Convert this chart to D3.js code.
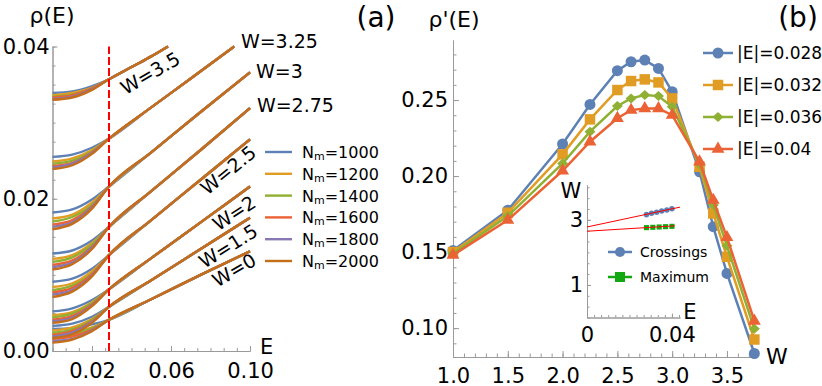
<!DOCTYPE html>
<html>
<head>
<meta charset="utf-8">
<script src="https://cdn.jsdelivr.net/npm/d3@7"></script>
<style>
  body { margin: 0; background: #fff; }
  svg text { font-family: "DejaVu Sans", sans-serif; fill: #000; }
</style>
</head>
<body>
<svg id="chart" width="822" height="386"></svg>
<script>
// ---------- panel (a) data: rho(E) ----------
const nmLabels = ["1000", "1200", "1400", "1600", "1800", "2000"];
const nmColors = ["#5e81b5", "#e19c24", "#8fb032", "#eb6235", "#8778b3", "#c56e1a"];
const wValues = [0, 1.5, 2, 2.5, 2.75, 3, 3.25, 3.5];
const wLabels = ["W=0", "W=1.5", "W=2", "W=2.5", "W=2.75", "W=3", "W=3.25", "W=3.5"];
const eLow = [0, 0.01, 0.02];

// rows are N_m = 1000..2000, values at eLow
const lowW0   = [[0.0029,0.0030,0.0035],[0.0022,0.0024,0.0031],[0.0019,0.0022,0.0030],[0.0016,0.0019,0.0028],[0.0013,0.0016,0.0027],[0.0011,0.0015,0.0026]];
const lowW15  = [[0.0033,0.0036,0.0045],[0.0027,0.0031,0.0042],[0.0024,0.0028,0.0041],[0.0021,0.0026,0.0039],[0.0019,0.0024,0.0038],[0.0017,0.0022,0.0037]];
const lowW2   = [[0.0052,0.0056,0.0067],[0.0047,0.0051,0.0064],[0.0044,0.0049,0.0063],[0.0041,0.0046,0.0061],[0.0039,0.0044,0.0060],[0.0037,0.0042,0.0059]];
const lowW25  = [[0.0091,0.0095,0.0108],[0.0084,0.0089,0.0105],[0.0080,0.0086,0.0102],[0.0077,0.0083,0.0101],[0.0074,0.0080,0.0099],[0.0071,0.0078,0.0098]];
const lowW275 = [[0.0128,0.0132,0.0145],[0.0121,0.0126,0.0142],[0.0117,0.0123,0.0140],[0.0113,0.0119,0.0137],[0.0110,0.0116,0.0136],[0.0107,0.0114,0.0134]];
const lowW3   = [[0.0182,0.0186,0.0199],[0.0174,0.0179,0.0195],[0.0170,0.0176,0.0192],[0.0166,0.0172,0.0190],[0.0163,0.0169,0.0189],[0.0160,0.0167,0.0187]];
const lowW325 = [[0.0255,0.0258,0.0267],[0.0249,0.0253,0.0264],[0.0246,0.0250,0.0262],[0.0243,0.0247,0.0261],[0.0241,0.0246,0.0260],[0.0239,0.0244,0.0259]];
const lowW35  = [[0.0339,0.0341,0.0348],[0.0336,0.0339,0.0346],[0.0334,0.0337,0.0345],[0.0333,0.0336,0.0345],[0.0331,0.0334,0.0344],[0.0330,0.0333,0.0343]];

// shared part after the crossing, [E, rho]
const tailW0   = [[0.0286,0.0041],[0.05,0.0068],[0.075,0.0100],[0.10,0.0131]];
const tailW15  = [[0.0286,0.0058],[0.05,0.0093],[0.075,0.0134],[0.10,0.0175]];
const tailW2   = [[0.0286,0.0081],[0.05,0.0122],[0.075,0.0169],[0.10,0.0216]];
const tailW25  = [[0.0286,0.0126],[0.05,0.0172],[0.075,0.0225],[0.10,0.0278]];
const tailW275 = [[0.0286,0.0163],[0.05,0.0210],[0.075,0.0264],[0.10,0.0319]];
const tailW3   = [[0.0286,0.0216],[0.05,0.0261],[0.075,0.0314],[0.10,0.0366]];
const tailW325 = [[0.0286,0.0279],[0.05,0.0320],[0.07,0.0358],[0.092,0.0400]];
const tailW35  = [[0.0286,0.0357],[0.04,0.0373],[0.05,0.0387],[0.0585,0.0400]];

const eCrossing = 0.0286;

// ---------- panel (b) data: rho'(E) vs W ----------
const wGrid = [1, 1.5, 2, 2.25, 2.5, 2.625, 2.75, 2.875, 3, 3.25, 3.375, 3.5, 3.75];
const eSeriesLabels = ["|E|=0.028", "|E|=0.032", "|E|=0.036", "|E|=0.04"];
const eSeriesColors = ["#5e81b5", "#e19c24", "#8fb032", "#eb6235"];
const slopeE028 = [0.151,0.1776,0.2211,0.2471,0.2693,0.2752,0.2763,0.2708,0.2555,0.2028,0.1667,0.1360,0.0833];
const slopeE032 = [0.150,0.1759,0.2143,0.2373,0.2566,0.2625,0.2636,0.2616,0.2511,0.2061,0.1754,0.1469,0.0925];
const slopeE036 = [0.149,0.1737,0.2083,0.2292,0.2461,0.2511,0.2533,0.2526,0.2456,0.2077,0.1809,0.1541,0.0995];
const slopeE040 = [0.148,0.1711,0.2035,0.2226,0.2380,0.2434,0.2445,0.2445,0.2401,0.2094,0.1842,0.1597,0.1047];

// inset
const crossE = [0.028, 0.0304, 0.0328, 0.0352, 0.0376, 0.04];
const crossW = [3.16, 3.20, 3.23, 3.27, 3.30, 3.34];
const maxE = [0.028, 0.031, 0.034, 0.037, 0.040];
const maxW = [2.76, 2.77, 2.78, 2.79, 2.80];
const fitCross = [[0, 2.78], [0.0438, 3.39]];
const fitMax = [[0, 2.65], [0.0414, 2.815]];

// ---------- drawing ----------
const svg = d3.select("#chart");
const axisColor = "#9a9a9a";

function styleAxis(g, fontSize) {
  g.attr("font-family", null).attr("font-size", fontSize);
  g.select(".domain").attr("stroke", axisColor);
  g.selectAll(".tick line").attr("stroke", axisColor);
  g.selectAll(".tick text").attr("fill", "#000");
}

function addAxis(parent, axis, transform, fontSize) {
  const g = parent.append("g").attr("transform", transform).call(axis);
  styleAxis(g, fontSize);
  return g;
}

// panel (a)
const xA = d3.scaleLinear().domain([0, 0.1]).range([52.5, 250]);
const yA = d3.scaleLinear().domain([0, 0.04]).range([351, 46.5]);
const gA = svg.append("g");

addAxis(gA, d3.axisBottom(xA).tickValues(d3.range(0, 0.1001, 0.02 / 3)).tickSize(-3).tickSizeOuter(0).tickFormat(""), `translate(0,${yA(0)})`, 21);
addAxis(gA, d3.axisBottom(xA).tickValues([0.02, 0.06, 0.1]).tickSize(-5).tickSizeOuter(0).tickPadding(12).tickFormat(d3.format(".2f")), `translate(0,${yA(0)})`, 21);
addAxis(gA, d3.axisLeft(yA).tickValues(d3.range(0, 0.04001, 0.0025)).tickSize(-3).tickSizeOuter(0).tickFormat(""), `translate(${xA(0)},0)`, 21);
addAxis(gA, d3.axisLeft(yA).tickValues([0, 0.02, 0.04]).tickSize(-5).tickSizeOuter(0).tickPadding(3).tickFormat(d3.format(".2f")), `translate(${xA(0)},0)`, 21);

const lowSets = [lowW0, lowW15, lowW2, lowW25, lowW275, lowW3, lowW325, lowW35];
const tailSets = [tailW0, tailW15, tailW2, tailW25, tailW275, tailW3, tailW325, tailW35];
const lineA = d3.line().x(d => xA(d[0])).y(d => yA(d[1])).curve(d3.curveMonotoneX);

nmLabels.forEach((nm, j) => {
  wValues.forEach((w, i) => {
    const pts = eLow.map((e, k) => [e, lowSets[i][j][k]]).concat(tailSets[i]);
    gA.append("path").attr("d", lineA(pts))
      .attr("fill", "none").attr("stroke", nmColors[j]).attr("stroke-width", 2.4);
  });
});

gA.append("line")
  .attr("x1", xA(eCrossing)).attr("x2", xA(eCrossing))
  .attr("y1", yA(0)).attr("y2", yA(0.04))
  .attr("stroke", "#ff0000").attr("stroke-width", 2).attr("stroke-dasharray", "8,3");

// W labels: [E, rho, angle, anchor]
const wLabelSpots = [
  [0.0919, 0.01065, -30, "middle"],
  [0.0889, 0.01380, -32, "middle"],
  [0.0919, 0.01814, -33, "middle"],
  [0.0889, 0.02379, -39, "middle"],
  [0.1035, 0.03141, 0, "start"],
  [0.1030, 0.03588, 0, "start"],
  [0.0954, 0.03983, 0, "start"],
  [0.0494, 0.03654, -30, "middle"]
];
wLabels.forEach((t, i) => {
  const [e, r, a, anchor] = wLabelSpots[i];
  const x = xA(e), y = yA(r);
  gA.append("text").text(t)
    .attr("font-size", 19)
    .attr("text-anchor", anchor)
    .attr("dominant-baseline", anchor === "middle" ? "central" : "auto")
    .attr("transform", `translate(${x},${y}) rotate(${a})`);
});

gA.append("text").text("ρ(E)").attr("x", 52).attr("y", 23)
  .attr("text-anchor", "middle").attr("font-size", 22);
gA.append("text").text("E").attr("x", 260).attr("y", 347)
  .attr("dominant-baseline", "central").attr("font-size", 21);
gA.append("text").text("(a)").attr("x", 376).attr("y", 27)
  .attr("text-anchor", "middle").attr("font-size", 28);

// legend (a)
const legA = gA.append("g");
nmLabels.forEach((nm, j) => {
  const y = 152 + j * 21.8;
  legA.append("line").attr("x1", 265).attr("x2", 292).attr("y1", y).attr("y2", y)
    .attr("stroke", nmColors[j]).attr("stroke-width", 2.4);
  const t = legA.append("text").attr("x", 302).attr("y", y)
    .attr("dominant-baseline", "central").attr("font-size", 16);
  t.append("tspan").text("N");
  t.append("tspan").text("m").attr("font-size", 11).attr("dy", 4);
  t.append("tspan").text("=" + nm).attr("dy", -4);
});

// panel (b)
const xB = d3.scaleLinear().domain([1, 3.765]).range([453, 756]);
const yB = d3.scaleLinear().domain([0.081, 0.2895]).range([357, 40]);
const gB = svg.append("g");

addAxis(gB, d3.axisBottom(xB).tickValues(d3.range(1, 3.76, 0.1)).tickSize(-3.5).tickSizeOuter(0).tickFormat(""), `translate(0,${yB.range()[0]})`, 21);
addAxis(gB, d3.axisBottom(xB).tickValues([1, 1.5, 2, 2.5, 3, 3.5]).tickSize(-6).tickSizeOuter(0).tickPadding(11).tickFormat(d3.format(".1f")), `translate(0,${yB.range()[0]})`, 21);
addAxis(gB, d3.axisLeft(yB).tickValues(d3.range(0.09, 0.285, 0.01)).tickSize(-3.5).tickSizeOuter(0).tickFormat(""), `translate(${xB(1)},0)`, 21);
addAxis(gB, d3.axisLeft(yB).tickValues([0.10, 0.15, 0.20, 0.25]).tickSize(-6).tickSizeOuter(0).tickPadding(5).tickFormat(d3.format(".2f")), `translate(${xB(1)},0)`, 21);

const symCircle = d3.symbol().type(d3.symbolCircle).size(95)();
const symSquare = d3.symbol().type(d3.symbolSquare).size(110)();
const symDiamond = "M0,-5L5.5,0L0,5L-5.5,0Z";
const symTriangle = d3.symbol().type(d3.symbolTriangle).size(72)();
const eSymbols = [symCircle, symSquare, symDiamond, symTriangle];
const slopeSets = [slopeE028, slopeE032, slopeE036, slopeE040];
const lineB = d3.line().x(d => xB(d[0])).y(d => yB(d[1]));

slopeSets.forEach((vals, i) => {
  const pts = wGrid.map((w, k) => [w, vals[k]]);
  gB.append("path").attr("d", lineB(pts))
    .attr("fill", "none").attr("stroke", eSeriesColors[i]).attr("stroke-width", 2.5);
  gB.selectAll(null).data(pts).enter().append("path")
    .attr("d", eSymbols[i])
    .attr("transform", d => `translate(${xB(d[0])},${yB(d[1])})`)
    .attr("fill", eSeriesColors[i]);
});

gB.append("text").text("ρ'(E)").attr("x", 454).attr("y", 27)
  .attr("text-anchor", "middle").attr("font-size", 22);
gB.append("text").text("W").attr("x", 777).attr("y", 356)
  .attr("text-anchor", "middle").attr("dominant-baseline", "central").attr("font-size", 22);
gB.append("text").text("(b)").attr("x", 798).attr("y", 27)
  .attr("text-anchor", "middle").attr("font-size", 28);

// legend (b)
eSeriesLabels.forEach((lab, i) => {
  const y = 53 + i * 32;
  gB.append("line").attr("x1", 703).attr("x2", 733).attr("y1", y).attr("y2", y)
    .attr("stroke", eSeriesColors[i]).attr("stroke-width", 2.5);
  gB.append("path").attr("d", eSymbols[i]).attr("transform", `translate(718,${y})`)
    .attr("fill", eSeriesColors[i]);
  gB.append("text").text(lab).attr("x", 737).attr("y", y)
    .attr("dominant-baseline", "central").attr("font-size", 17);
});

// inset
const xI = d3.scaleLinear().domain([0, 0.0438]).range([587, 680]);
const yI = d3.scaleLinear().domain([0, 4.07]).range([317.5, 185]);
const gI = svg.append("g");

addAxis(gI, d3.axisBottom(xI).tickValues(d3.range(0, 0.0438, 0.04 / 12)).tickSize(-2.5).tickSizeOuter(0).tickFormat(""), `translate(0,${yI(0)})`, 21);
addAxis(gI, d3.axisBottom(xI).tickValues([0, 0.04]).tickSize(-4).tickSizeOuter(0).tickPadding(10).tickFormat(d => d === 0 ? "0" : d3.format(".2f")(d)), `translate(0,${yI(0)})`, 21);
addAxis(gI, d3.axisLeft(yI).tickValues(d3.range(0, 4.07, 1 / 3)).tickSize(-2.5).tickSizeOuter(0).tickFormat(""), `translate(${xI(0)},0)`, 21);
addAxis(gI, d3.axisLeft(yI).tickValues([1, 3]).tickSize(-4).tickSizeOuter(0).tickPadding(4).tickFormat(d3.format("d")), `translate(${xI(0)},0)`, 21);

const lineI = d3.line().x(d => xI(d[0])).y(d => yI(d[1]));
const insetBlue = "#5e81b5", insetGreen = "#12a812";

gI.selectAll(null).data(crossE.map((e, k) => [e, crossW[k]])).enter().append("path")
  .attr("d", d3.symbol().type(d3.symbolCircle).size(24)())
  .attr("transform", d => `translate(${xI(d[0])},${yI(d[1])})`)
  .attr("fill", insetBlue);
gI.selectAll(null).data(maxE.map((e, k) => [e, maxW[k]])).enter().append("path")
  .attr("d", d3.symbol().type(d3.symbolSquare).size(26)())
  .attr("transform", d => `translate(${xI(d[0])},${yI(d[1])})`)
  .attr("fill", insetGreen);
[fitCross, fitMax].forEach(f => {
  gI.append("path").attr("d", lineI(f)).attr("fill", "none")
    .attr("stroke", "#ff0000").attr("stroke-width", 1);
});

gI.append("text").text("W").attr("x", 571).attr("y", 191)
  .attr("text-anchor", "middle").attr("dominant-baseline", "central").attr("font-size", 21);
gI.append("text").text("E").attr("x", 690).attr("y", 312)
  .attr("text-anchor", "middle").attr("dominant-baseline", "central").attr("font-size", 21);

const insetLegend = [["Crossings", insetBlue, d3.symbol().type(d3.symbolCircle).size(80)()],
                     ["Maximum", insetGreen, d3.symbol().type(d3.symbolSquare).size(100)()]];
insetLegend.forEach(([lab, col, sym], i) => {
  const y = 252 + i * 25;
  gI.append("line").attr("x1", 608).attr("x2", 632).attr("y1", y).attr("y2", y)
    .attr("stroke", col).attr("stroke-width", 2.5);
  gI.append("path").attr("d", sym).attr("transform", `translate(620,${y})`).attr("fill", col);
  gI.append("text").text(lab).attr("x", 640).attr("y", y)
    .attr("dominant-baseline", "central").attr("font-size", 14);
});
</script>
</body>
</html>
